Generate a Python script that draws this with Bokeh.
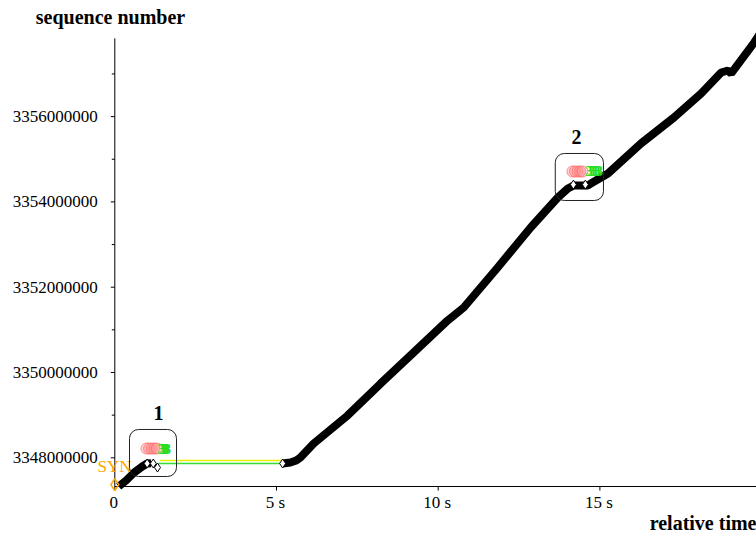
from bokeh.plotting import figure
from bokeh.models import Range1d, BoxAnnotation
from bokeh.core.properties import value
from bokeh.embed import file_html
from bokeh.resources import INLINE

# ---------------- data (time in s, sequence numbers) ----------------
syn_t = [0.0]
syn_seq = [3347370000]
syn_label = ["SYN"]
syn_label_t = [-0.535]
syn_label_seq = [3347796000]

start_t = [0.12, 0.35, 0.6, 0.85, 1.0, 1.12]
start_seq = [3347327000, 3347468000, 3347655000, 3347796000, 3347866000, 3347870000]

blob_t = [1.19, 1.32]
blob_seq = [3347866000, 3347772000]

main_t = [5.19, 5.43, 5.61, 5.74, 6.15, 7.20, 8.22, 9.24, 10.29, 10.79, 11.84, 12.86,
          13.70, 14.01, 14.19, 14.63, 14.72, 15.25, 16.27, 17.29, 18.13, 18.75, 18.96,
          19.06, 19.77, 20.0]
main_seq = [3347866000, 3347890000, 3347937000, 3348007000, 3348335000, 3348992000,
            3349742000, 3350469000, 3351219000, 3351524000, 3352462000, 3353400000,
            3354103000, 3354314000, 3354385000, 3354385000, 3354432000, 3354666000,
            3355369000, 3355979000, 3356542000, 3357034000, 3357081000, 3357011000,
            3357737000, 3358000000]

diamond_t = [1.0, 1.19, 1.32, 5.19, 14.18, 14.55]
diamond_seq = [3347866000, 3347866000, 3347772000, 3347866000, 3354406000, 3354406000]

ack_t = [1.35, 5.19]
ack_seq = [3347866000, 3347866000]
win_t = [1.40, 5.34]
win_seq = [3347937000, 3347937000]
win2_t = [14.50, 14.92]
win2_seq = [3354455000, 3354455000]
ack2_t = [14.40, 14.58]
ack2_seq = [3354314000, 3354314000]

red1_t = [0.98, 1.06, 1.14, 1.22, 1.30]
red1_seq = [3348218000] * 5
green1_t = [1.44, 1.50, 1.56, 1.62]
green1_seq = [3348218000] * 4
red2_t = [14.15, 14.23, 14.31, 14.39, 14.46]
red2_seq = [3354713000] * 5
green2_t = [14.66, 14.74, 14.82, 14.90, 14.98]
green2_seq = [3354713000] * 5

box_left = [0.455, 13.62]
box_right = [1.908, 15.11]
box_bottom = [3347562000, 3354033000]
box_top = [3348664000, 3355135000]
callout_t = [1.354, 14.28]
callout_seq = [3349040000, 3355510000]
callout_text = ["1", "2"]

# axes: ticks and labels
x_ticks = [0, 5, 10, 15]
x_tick_labels = ["0", "5 s", "10 s", "15 s"]
y_ticks = [3348000000, 3350000000, 3352000000, 3354000000, 3356000000]
y_tick_labels = ["3348000000", "3350000000", "3352000000", "3354000000", "3356000000"]
y_minor_ticks = [3349000000, 3351000000, 3353000000, 3355000000, 3357000000]
x_title = "relative time"
y_title = "sequence number"

# axis extent (data units)
t_axis_min, t_axis_max = 0.0, 19.842
seq_axis_min, seq_axis_max = 3347327000, 3357835000

# ---------------- layout / style constants ----------------
W, H = 756, 533
PX_PER_S = 32.34
PX_PER_SEQ = 42.65e-6
ORIGIN_X = 114.3            # canvas x of t = 0
REF_Y, REF_SEQ = 457.3, 3348000000
FONT = "Liberation Serif"

x_lo = -ORIGIN_X / PX_PER_S
x_hi = (W - ORIGIN_X) / PX_PER_S
y_top = REF_SEQ + REF_Y / PX_PER_SEQ
y_bot = REF_SEQ - (H - REF_Y) / PX_PER_SEQ

p = figure(width=W, height=H, output_backend="svg", toolbar_location=None,
           x_range=Range1d(x_lo, x_hi), y_range=Range1d(y_bot, y_top),
           x_axis_type=None, y_axis_type=None, title=None,
           min_border_left=0, min_border_right=0, min_border_top=0, min_border_bottom=0)
p.outline_line_color = None
p.grid.visible = False
p.background_fill_color = "white"
p.border_fill_color = "white"

# ---- axes drawn from the tick arrays ----
major_dt = 4 / PX_PER_S
minor_dt = 3 / PX_PER_S
major_ds = 4 / PX_PER_SEQ

p.segment(x0=[t_axis_min], y0=[seq_axis_min], x1=[t_axis_min], y1=[seq_axis_max],
          line_color="black", line_width=1)
p.segment(x0=[t_axis_min], y0=[seq_axis_min], x1=[t_axis_max + 1], y1=[seq_axis_min],
          line_color="black", line_width=1)
p.segment(x0=[t_axis_min] * len(y_ticks), y0=y_ticks,
          x1=[t_axis_min - major_dt] * len(y_ticks), y1=y_ticks,
          line_color="black", line_width=1)
p.segment(x0=[t_axis_min] * len(y_minor_ticks), y0=y_minor_ticks,
          x1=[t_axis_min - minor_dt] * len(y_minor_ticks), y1=y_minor_ticks,
          line_color="black", line_width=1)
p.segment(x0=x_ticks, y0=[seq_axis_min] * len(x_ticks),
          x1=x_ticks, y1=[seq_axis_min - major_ds] * len(x_ticks),
          line_color="black", line_width=1)

p.text([t_axis_min] * len(y_ticks), y_ticks, text=y_tick_labels, x_offset=-17, y_offset=0,
       text_align="right", text_baseline="alphabetic", text_font=value(FONT),
       text_font_size="17px", text_color="black")
p.text(x_ticks, [seq_axis_min] * len(x_ticks), text=x_tick_labels, x_offset=-1, y_offset=16,
       text_align="center", text_baseline="alphabetic", text_font=value(FONT),
       text_font_size="17px", text_color="black")
p.text([t_axis_min], [seq_axis_max], text=[y_title], x_offset=-79, y_offset=-21,
       text_align="left", text_baseline="alphabetic", text_font=value(FONT),
       text_font_size="20px", text_font_style="bold", text_color="black")
p.text([x_hi], [seq_axis_min], text=[x_title], x_offset=0, y_offset=36,
       text_align="right", text_baseline="alphabetic", text_font=value(FONT),
       text_font_size="20px", text_font_style="bold", text_color="black")

# window / ack lines
p.line(win_t, win_seq, line_color="#eeee00", line_width=1.6)
p.line(ack_t, ack_seq, line_color="#33dd33", line_width=1.6)
p.line(win2_t, win2_seq, line_color="#eeee00", line_width=1.6)
p.line(ack2_t, ack2_seq, line_color="#33dd33", line_width=1.6)

# data segments
p.line(start_t, start_seq, line_color="black", line_width=8)
p.line(blob_t, blob_seq, line_color="black", line_width=3)
p.line(main_t, main_seq, line_color="black", line_width=8)
p.scatter(diamond_t, diamond_seq, marker="diamond", size=9, fill_color="white",
          line_color="black", line_width=1)

# SYN
p.scatter(syn_t, syn_seq, marker="diamond", size=12, fill_alpha=0,
          line_color="#ffa500", line_width=1.5)
p.text(syn_label_t, syn_label_seq, text=syn_label, text_color="#ffa500",
       text_font=value(FONT), text_font_size="17px", text_align="left",
       text_baseline="alphabetic")

# markers in callouts
for rt, rs in ((red1_t, red1_seq), (red2_t, red2_seq)):
    p.scatter(rt, rs, marker="circle", size=11, fill_color="#ff8888", fill_alpha=0.35,
              line_color="#ff6666", line_alpha=0.7, line_width=1)
for gt, gs in ((green1_t, green1_seq), (green2_t, green2_seq)):
    p.text(gt, gs, text=["3"] * len(gt), text_color="#22dd22", text_font=value(FONT),
           text_font_size="15px", text_align="center", text_baseline="middle",
           text_font_style="bold")

for l, r, b, t in zip(box_left, box_right, box_bottom, box_top):
    p.add_layout(BoxAnnotation(left=l, right=r, bottom=b, top=t, fill_alpha=0,
                               line_color="#222222", line_alpha=1, line_width=1,
                               border_radius=9))

p.text(callout_t, callout_seq, text=callout_text, text_color="black",
       text_font=value(FONT), text_font_size="20px", text_font_style="bold",
       text_align="center", text_baseline="middle")

open("out.html", "w").write(file_html(p, INLINE))
